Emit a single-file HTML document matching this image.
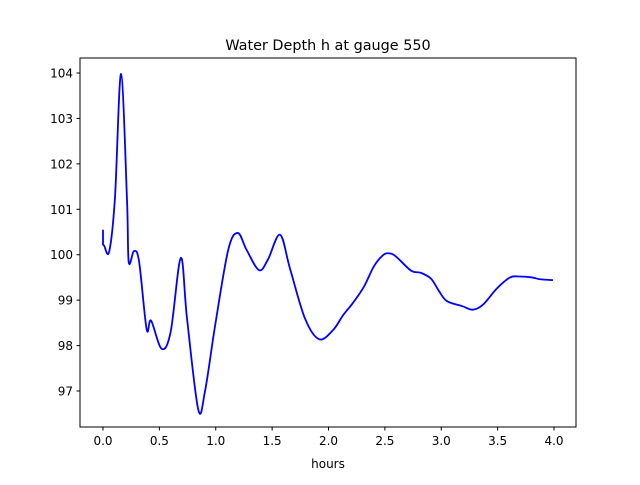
<!DOCTYPE html>
<html><head><meta charset="utf-8"><style>
body{margin:0;background:#fff}
svg text{font-family:"DejaVu Sans","Liberation Sans",sans-serif;font-size:12px;fill:#000}
</style></head><body>
<svg id="chart" width="640" height="480">
<rect width="640" height="480" fill="#fff"/>
<text x="328" y="50" text-anchor="middle" style="font-size:14.4px">Water Depth h at gauge 550</text>
<g id="xticks"></g><g id="yticks"></g>
<path id="line" fill="none" stroke="#0000ff" stroke-width="1.8" stroke-linejoin="round"/>
<rect x="80" y="58" width="496" height="369" fill="none" stroke="#000" stroke-width="1"/>
<text x="328" y="468" text-anchor="middle">hours</text>
</svg>
<script>
const hours=[0,0,0.01,0.055,0.106,0.16,0.213,0.228,0.275,0.32,0.387,0.426,0.52,0.6,0.69,0.745,0.845,0.905,0.995,1.11,1.195,1.275,1.384,1.464,1.57,1.658,1.791,1.916,2.04,2.13,2.22,2.315,2.404,2.484,2.537,2.599,2.732,2.821,2.91,2.98,3.05,3.184,3.28,3.37,3.494,3.61,3.698,3.805,3.876,3.991];
const depth=[100.55,100.22,100.2,100.07,101.25,103.98,101.2,99.84,100.08,99.85,98.36,98.55,97.93,98.3,99.93,98.6,96.59,97.0,98.45,100.1,100.48,100.1,99.66,99.9,100.44,99.7,98.6,98.14,98.34,98.67,98.95,99.3,99.75,99.99,100.03,99.96,99.65,99.6,99.47,99.2,98.98,98.87,98.79,98.9,99.26,99.5,99.52,99.5,99.46,99.44];
const xTicks=[0,0.5,1,1.5,2,2.5,3,3.5,4];
const xLabels=["0.0","0.5","1.0","1.5","2.0","2.5","3.0","3.5","4.0"];
const yTicks=[97,98,99,100,101,102,103,104];
const yLabels=["97","98","99","100","101","102","103","104"];
const X=v=>103+v*112.75, Y=v=>73+(104-v)*45.43;
const NS="http://www.w3.org/2000/svg";
const xg=document.getElementById('xticks'), yg=document.getElementById('yticks');
xTicks.forEach((t,i)=>{
  const l=document.createElementNS(NS,'line');
  l.setAttribute('x1',X(t));l.setAttribute('x2',X(t));l.setAttribute('y1',427);l.setAttribute('y2',430.5);l.setAttribute('stroke','#000');
  
  
  xg.appendChild(l);
  const tx=document.createElementNS(NS,'text');
  tx.setAttribute('x',X(t));tx.setAttribute('y',445);tx.setAttribute('text-anchor','middle');tx.textContent=xLabels[i];
  
  
  xg.appendChild(tx);
});
yTicks.forEach((t,i)=>{
  const l=document.createElementNS(NS,'line');
  l.setAttribute('x1',76.5);l.setAttribute('x2',80);l.setAttribute('y1',Y(t));l.setAttribute('y2',Y(t));l.setAttribute('stroke','#000');
  
  
  yg.appendChild(l);
  const tx=document.createElementNS(NS,'text');
  tx.setAttribute('x',73);tx.setAttribute('y',Y(t)+4.5);tx.setAttribute('text-anchor','end');tx.textContent=yLabels[i];
  
  
  yg.appendChild(tx);
});
const P=hours.map((h,i)=>[X(h),Y(depth[i])]);
let d='M'+P[0][0]+','+P[0][1]+' L'+P[1][0]+','+P[1][1];
for(let i=1;i<P.length-1;i++){
  const p0=P[Math.max(1,i-1)],p1=P[i],p2=P[i+1],p3=P[Math.min(P.length-1,i+2)];
  const c1=[p1[0]+(p2[0]-p0[0])/6,p1[1]+(p2[1]-p0[1])/6];
  const c2=[p2[0]-(p3[0]-p1[0])/6,p2[1]-(p3[1]-p1[1])/6];
  d+=' C'+c1[0]+','+c1[1]+' '+c2[0]+','+c2[1]+' '+p2[0]+','+p2[1];
}
document.getElementById('line').setAttribute('d',d);
</script>
</body></html>
